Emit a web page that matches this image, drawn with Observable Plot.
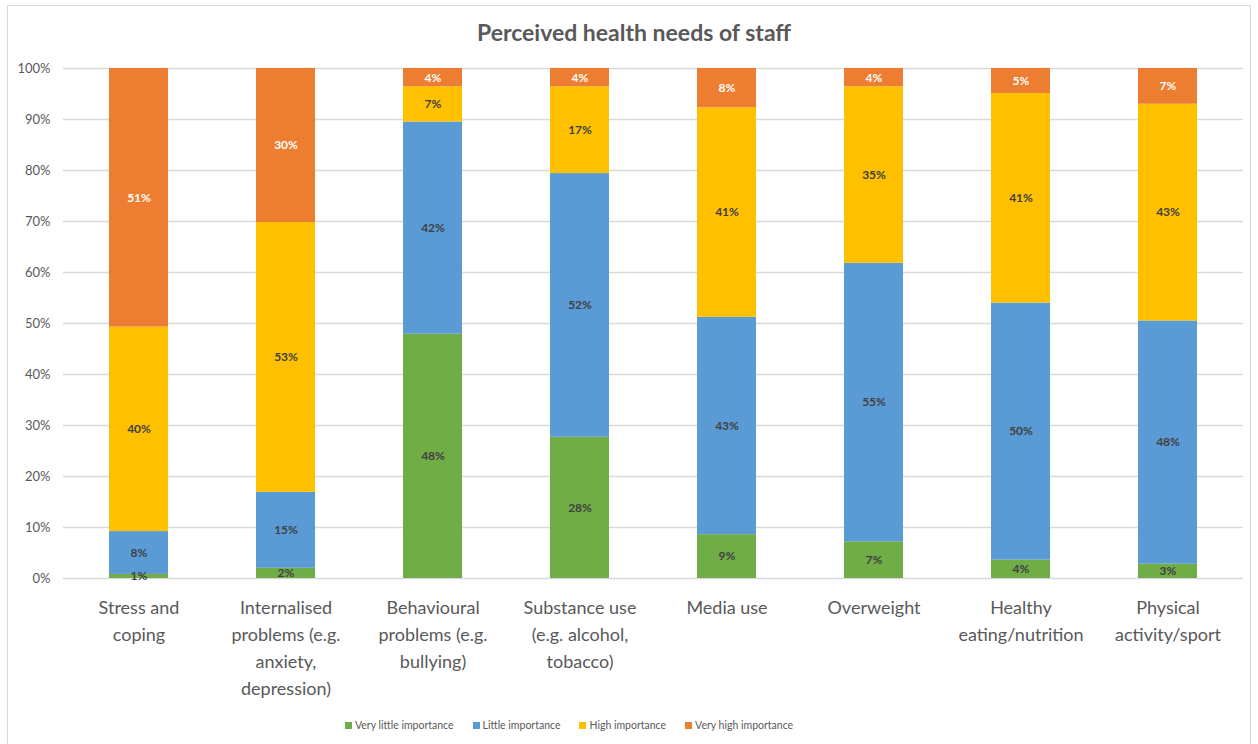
<!DOCTYPE html>
<html>
<head>
<meta charset="utf-8">
<script src="https://cdn.jsdelivr.net/npm/d3@7"></script>
<script src="https://cdn.jsdelivr.net/npm/@observablehq/plot@0.6"></script>
<style>
  html, body { margin: 0; padding: 0; background: #fff; }
  body { width: 1258px; height: 744px; position: relative; overflow: hidden; font-family: Lato, "Open Sans", sans-serif; }
  #frame { position: absolute; left: 7px; top: 5px; width: 1244px; height: 760px; border: 1px solid #d9d9d9; box-sizing: border-box; }
  #title { position: absolute; left: 0; top: 18px; width: 1268px; text-align: center; font-size: 23px; font-weight: bold; color: #595959; }
  #chart { position: absolute; left: 0; top: 55px; }
  #legend { position: absolute; left: 345px; top: 719px; display: flex; gap: 19px; font-size: 10.5px; color: #595959; white-space: nowrap; }
  #legend span.item { display: inline-flex; align-items: center; }
  #legend span.sw { display: inline-block; width: 7px; height: 7px; margin-right: 3px; }
</style>
</head>
<body>
<div id="frame"></div>
<div id="title">Perceived health needs of staff</div>
<div id="chart"></div>
<div id="legend"></div>
<script>
const categories = ["Stress and coping", "Internalised problems (e.g. anxiety, depression)", "Behavioural problems (e.g. bullying)", "Substance use (e.g. alcohol, tobacco)", "Media use", "Overweight", "Healthy eating/nutrition", "Physical activity/sport"];
const tickLabels = ["Stress and\ncoping", "Internalised\nproblems (e.g.\nanxiety,\ndepression)", "Behavioural\nproblems (e.g.\nbullying)", "Substance use\n(e.g. alcohol,\ntobacco)", "Media use", "Overweight", "Healthy\neating/nutrition", "Physical\nactivity/sport"];
const series = ["Very little importance", "Little importance", "High importance", "Very high importance"];
const colors = ["#70AD47", "#5B9BD5", "#FFC000", "#ED7D31"];
const veryLittle = [0.8, 2.0, 47.9, 27.7, 8.6, 7.2, 3.6, 2.8];
const little = [8.4, 14.9, 41.6, 51.7, 42.6, 54.6, 50.4, 47.7];
const high = [40.1, 52.9, 6.9, 17.0, 41.1, 34.6, 41.1, 42.5];
const veryHigh = [50.7, 30.2, 3.6, 3.6, 7.7, 3.6, 4.9, 7.0];
const yTicks = [0, 10, 20, 30, 40, 50, 60, 70, 80, 90, 100];

const seriesValues = [veryLittle, little, high, veryHigh];
const data = [];
series.forEach((s, si) => {
  categories.forEach((c, ci) => {
    data.push({category: c, series: s, value: seriesValues[si][ci]});
  });
});

const font = "Lato, 'Open Sans', sans-serif";

const chart = Plot.plot({
  width: 1258,
  height: 648,
  marginLeft: 63,
  marginRight: 15,
  marginTop: 13,
  marginBottom: 125,
  style: {fontFamily: font, background: "transparent"},
  x: {domain: categories, paddingInner: 0.6, paddingOuter: 0.3, label: null},
  y: {domain: [0, 100], label: null},
  color: {domain: series, range: colors},
  marks: [
    Plot.gridY(yTicks, {stroke: "#d9d9d9", strokeOpacity: 1, strokeWidth: 1.3}),
    Plot.axisY(yTicks, {tickSize: 0, tickPadding: 13, tickFormat: d => d + "%", fontSize: 13, color: "#595959"}),
    Plot.axisX({tickSize: 0, tickPadding: 16, fontSize: 18, lineHeight: 1.5, color: "#595959",
      tickFormat: d => tickLabels[categories.indexOf(d)]}),
    Plot.barY(data, {x: "category", y: "value", fill: "series", order: series}),
    Plot.text(data, Plot.stackY({x: "category", y: "value", z: "series", order: series,
      text: d => Math.round(d.value) + "%",
      fill: d => d.series === "Very high importance" ? "#ffffff" : "#404040",
      fontSize: 12, fontWeight: "bold"}))
  ]
});
document.getElementById("chart").appendChild(chart);

const legend = document.getElementById("legend");
series.forEach((s, i) => {
  const item = document.createElement("span");
  item.className = "item";
  const sw = document.createElement("span");
  sw.className = "sw";
  sw.style.background = colors[i];
  item.appendChild(sw);
  item.appendChild(document.createTextNode(s));
  legend.appendChild(item);
});
</script>
</body>
</html>
